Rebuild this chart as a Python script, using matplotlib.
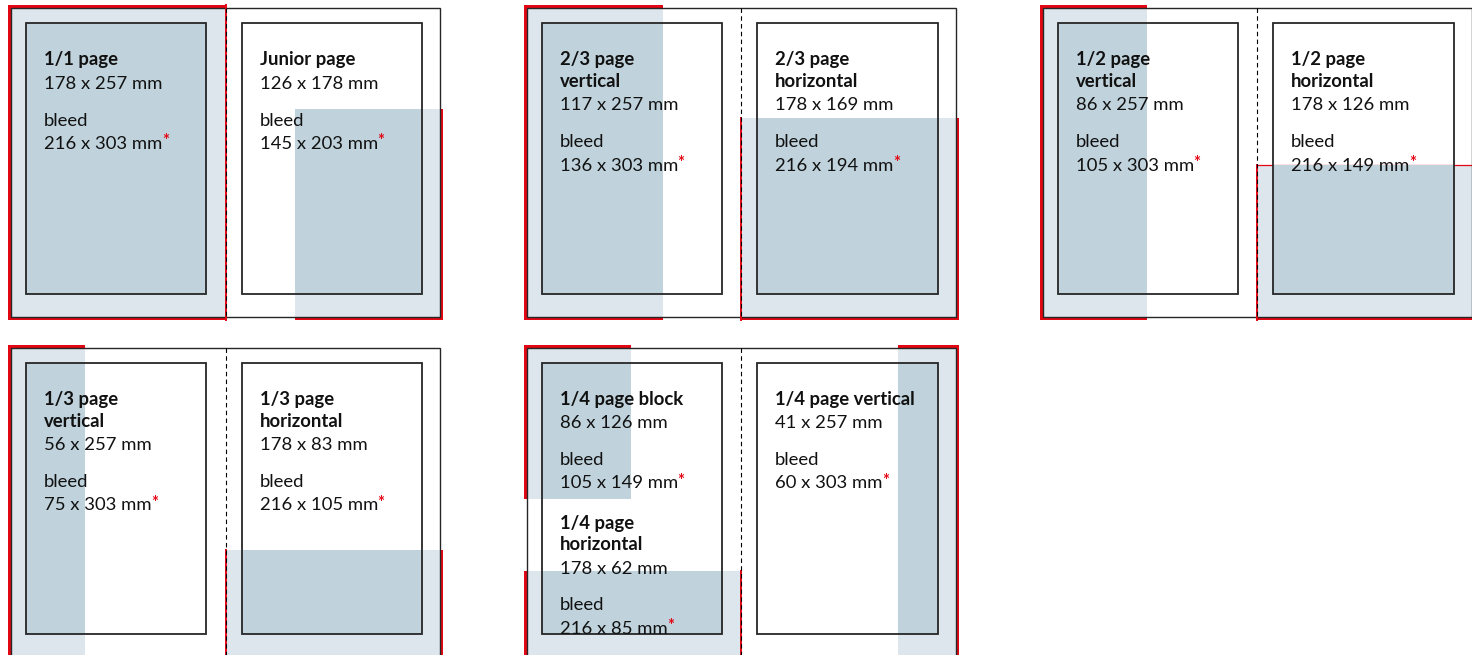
import matplotlib
matplotlib.use("Agg")
import matplotlib.pyplot as plt
from matplotlib.patches import Rectangle

# ad formats: name, net size and bleed size in mm
format_names = ["1/1 page", "Junior page", "2/3 page\nvertical", "2/3 page\nhorizontal",
                "1/2 page\nvertical", "1/2 page\nhorizontal", "1/3 page\nvertical",
                "1/3 page\nhorizontal", "1/4 page block", "1/4 page\nhorizontal",
                "1/4 page vertical"]
trim_w = [178, 126, 117, 178, 86, 178, 56, 178, 86, 178, 41]
trim_h = [257, 178, 257, 169, 257, 126, 257, 83, 126, 62, 257]
bleed_w = [216, 145, 136, 216, 105, 216, 75, 216, 105, 216, 60]
bleed_h = [303, 203, 303, 194, 303, 149, 303, 105, 149, 85, 303]

# where each format sits in the drawing
spread_of = [0, 0, 1, 1, 2, 2, 3, 3, 4, 4, 4]
page_of = [0, 1, 0, 1, 0, 1, 0, 1, 0, 0, 1]
anchor_x = ["left", "right", "left", "right", "left", "right", "left", "right", "left", "left", "right"]
anchor_y = ["top", "bottom", "top", "bottom", "top", "bottom", "top", "bottom", "top", "bottom", "top"]
text_slot = [0, 0, 0, 0, 0, 0, 0, 0, 0, 1, 0]
thin_top = [False, False, False, False, False, True, False, False, False, False, False]

# page geometry (mm)
PAGE_W, PAGE_H, BLEED = 210, 297, 3
type_x = [(14.5, 191.0), (225.5, 402.5)]
type_y = (14.5, 275.0)

# layout of the spreads in the picture (px)
origins = [(11, 8), (526.7, 8), (1042.7, 8), (11, 347.7), (526.7, 347.7)]
SX, SY = 1.0222, 1.0394

LIGHT = "#dee6ed"
DARK = "#c0d3dc"
RED = "#e30613"
LINE = "#262626"

plt.rcParams["font.family"] = ["Lato", "DejaVu Sans"]

fig = plt.figure(figsize=(14.72, 6.55), dpi=100)
ax = fig.add_axes([0, 0, 1, 1])
ax.set_xlim(0, 1472)
ax.set_ylim(655, 0)
ax.axis("off")


def px(s, x, y):
    ox, oy = origins[s]
    return ox + x * SX, oy + y * SY


def box(s, x0, y0, x1, y1, **kw):
    X0, Y0 = px(s, x0, y0)
    X1, Y1 = px(s, x1, y1)
    ax.add_patch(Rectangle((X0, Y0), X1 - X0, Y1 - Y0, **kw))


spine_red = []
for i in range(len(format_names)):
    s, p = spread_of[i], page_of[i]
    lo = -BLEED if p == 0 else PAGE_W
    hi = PAGE_W if p == 0 else 2 * PAGE_W + BLEED
    if anchor_x[i] == "left":
        x0 = p * PAGE_W - BLEED
        x1 = x0 + bleed_w[i]
    else:
        x1 = (p + 1) * PAGE_W + BLEED
        x0 = x1 - bleed_w[i]
    x0, x1 = max(x0, lo), min(x1, hi)
    if anchor_y[i] == "top":
        y0 = -BLEED
        y1 = y0 + bleed_h[i]
    else:
        y1 = PAGE_H + BLEED
        y0 = y1 - bleed_h[i]

    box(s, x0, y0, x1, y1, facecolor=LIGHT, edgecolor="none", zorder=1)
    if thin_top[i]:
        a, b = px(s, x0, y0), px(s, x1, y0)
        ax.plot([a[0], b[0]], [a[1], b[1]], color=RED, lw=0.9, zorder=1.5)
    tx0, tx1 = type_x[p]
    ix0, ix1 = max(x0, tx0), min(x1, tx1)
    iy0, iy1 = max(y0, type_y[0]), min(y1, type_y[1])
    if ix1 > ix0 and iy1 > iy0:
        box(s, ix0, iy0, ix1, iy1, facecolor=DARK, edgecolor="none", zorder=2)

    # red bleed bands on the outer edges
    if x0 == -BLEED:
        box(s, -BLEED, y0, 0, y1, facecolor=RED, edgecolor="none", zorder=3)
    if x1 == 2 * PAGE_W + BLEED:
        box(s, 2 * PAGE_W, y0, x1, y1, facecolor=RED, edgecolor="none", zorder=3)
    if y0 == -BLEED:
        box(s, x0, -BLEED, x1, 0, facecolor=RED, edgecolor="none", zorder=3)
    if y1 == PAGE_H + BLEED:
        box(s, x0, PAGE_H, x1, y1, facecolor=RED, edgecolor="none", zorder=3)
    if x0 == PAGE_W or x1 == PAGE_W:
        spine_red.append((s, y0, y1))

# spreads, type areas and spine
for s in range(len(origins)):
    box(s, 0, 0, 2 * PAGE_W, PAGE_H, facecolor="none", edgecolor=LINE, lw=1.0, zorder=4)
    for tx0, tx1 in type_x:
        box(s, tx0, type_y[0], tx1, type_y[1], facecolor="none", edgecolor=LINE, lw=1.3, zorder=4)
for s, y0, y1 in spine_red:
    a, b = px(s, PAGE_W, y0), px(s, PAGE_W, y1)
    ax.plot([a[0], b[0]], [a[1], b[1]], color=RED, lw=1.4, zorder=4.5)
for s in range(len(origins)):
    a, b = px(s, PAGE_W, 0), px(s, PAGE_W, PAGE_H)
    ax.plot([a[0], b[0]], [a[1], b[1]], color="black", lw=0.8, ls=(0, (4, 3)), zorder=5)

# labels
FS = 13.3
TXT = "#111111"
for i in range(len(format_names)):
    s, p = spread_of[i], page_of[i]
    x = px(s, type_x[p][0], 0)[0] + 18
    y = origins[s][1] + 57.5 + text_slot[i] * 123.3
    lines = format_names[i].split("\n")
    for k, ln in enumerate(lines):
        ax.text(x, y, ln, fontsize=FS, fontweight="bold", va="baseline", ha="left", color=TXT, zorder=6)
        if k < len(lines) - 1:
            y += 21.8
    y += 23.2
    ax.text(x, y, f"{trim_w[i]} x {trim_h[i]} mm", fontsize=FS, va="baseline", ha="left", color=TXT, zorder=6)
    y += 36.8
    ax.text(x, y, "bleed", fontsize=FS, va="baseline", ha="left", color=TXT, zorder=6)
    y += 23.3
    t = ax.text(x, y, f"{bleed_w[i]} x {bleed_h[i]} mm", fontsize=FS, va="baseline", ha="left", color=TXT, zorder=6)
    ax.annotate("*", xy=(1, 1), xycoords=t, xytext=(-0.3, 1.8), textcoords="offset points",
                fontsize=12, fontweight="bold", color=RED, ha="left", va="top", zorder=6)

fig.savefig("out.png", dpi=100)
